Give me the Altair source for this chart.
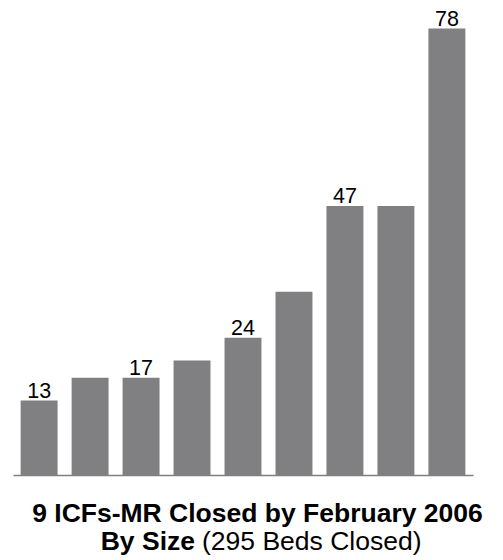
import altair as alt
import pandas as pd

# Data
facilities = ["F1", "F2", "F3", "F4", "F5", "F6", "F7", "F8", "F9"]
beds = [13, 17, 17, 20, 24, 32, 47, 47, 78]
labels = ["13", "", "17", "", "24", "", "47", "", "78"]

title_line1 = "9 ICFs-MR Closed by February 2006"
title_line2_bold = "By Size"
title_line2_regular = "(295 Beds Closed)"

df = pd.DataFrame({"facility": facilities, "beds": beds, "label": labels})

FONT = "Liberation Sans"
BAR = "#808082"

x_enc = alt.X("facility:N", sort=facilities,
              scale=alt.Scale(paddingInner=0.275, paddingOuter=0.15),
              axis=alt.Axis(title=None, labels=False, ticks=False,
                            domain=True, domainColor="#7f7f7f", domainWidth=1.5))
y_enc = alt.Y("beds:Q", scale=alt.Scale(domain=[0, 79.5], nice=False),
              axis=None)

base = alt.Chart(df)

bars = base.mark_bar(color=BAR).encode(x=x_enc, y=y_enc)

text = base.mark_text(font=FONT, fontSize=21.5, color="#000000",
                      baseline="alphabetic", dy=-3, align="center").encode(
    x=alt.X("facility:N", sort=facilities),
    y=alt.Y("beds:Q"),
    text="label:N",
)

t1 = alt.Chart(pd.DataFrame({"t": [title_line1]})).mark_text(
    font=FONT, fontSize=26.5, fontWeight="bold", color="#000000",
    align="center", baseline="alphabetic").encode(
    x=alt.value(244.5), y=alt.value(502), text="t:N")

t2a = alt.Chart(pd.DataFrame({"t": [title_line2_bold]})).mark_text(
    font=FONT, fontSize=26.5, fontWeight="bold", color="#000000",
    align="right", baseline="alphabetic").encode(
    x=alt.value(182), y=alt.value(530), text="t:N")

t2b = alt.Chart(pd.DataFrame({"t": [title_line2_regular]})).mark_text(
    font=FONT, fontSize=26.5, fontWeight="normal", color="#000000",
    align="left", baseline="alphabetic").encode(
    x=alt.value(189), y=alt.value(530), text="t:N")

chart = alt.layer(bars, text, t1, t2a, t2b).properties(
    width=460, height=455,
    autosize=alt.AutoSizeParams(type="none"),
    padding={"left": 5, "top": 12, "right": 22, "bottom": 82},
    background="#ffffff",
).configure_view(stroke=None)

chart.save("out.html", embed_options={"renderer": "svg", "actions": False})
